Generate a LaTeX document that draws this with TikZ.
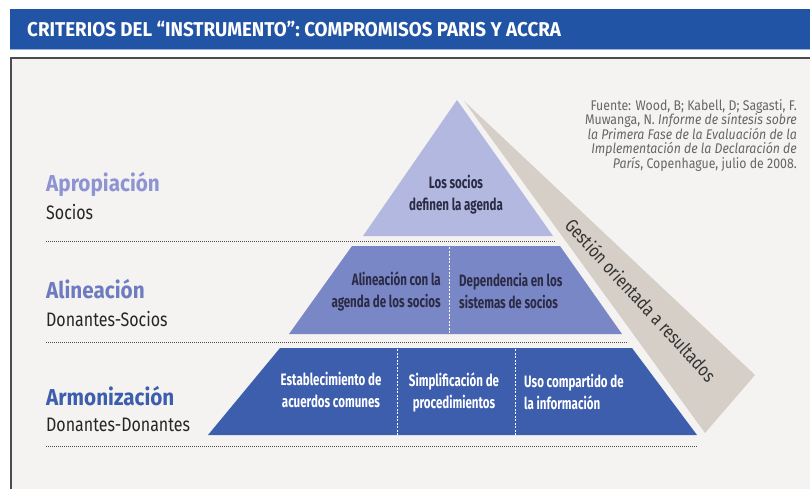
\documentclass[tikz,border=0pt]{standalone}
\usepackage{fontspec}
\setmainfont{Fira Sans}
\newfontfamily\narrowfont[FakeStretch=0.82]{Fira Sans}
\newfontfamily\slimfont[FakeStretch=0.7]{Fira Sans}
\newfontfamily\titlefont[FakeStretch=0.94]{Fira Sans}
\newfontfamily\levelfont[FakeStretch=0.9]{Fira Sans}
\newfontfamily\notefont[FakeStretch=0.88]{Fira Sans}
\usetikzlibrary{positioning}

\definecolor{headblue}{HTML}{2254A5}
\definecolor{panelgray}{HTML}{F4F3F1}
\definecolor{tiertop}{HTML}{B2B8E0}
\definecolor{tiermid}{HTML}{7A87C6}
\definecolor{tierlow}{HTML}{3D5DAD}
\definecolor{stripgray}{HTML}{D5CFC7}
\definecolor{lbltop}{HTML}{8E94D2}
\definecolor{lblmid}{HTML}{6E7BC0}
\definecolor{textdark}{HTML}{2B2B45}

\tikzstyle{headline}=[anchor=west,text=white,inner sep=0pt,
font=\titlefont\bfseries\fontsize{20}{20}\selectfont]
\tikzstyle{level}=[anchor=base west,inner sep=0pt,
font=\levelfont\bfseries\fontsize{23}{23}\selectfont]
\tikzstyle{actor}=[anchor=base west,inner sep=0pt,text=black!85,
font=\narrowfont\fontsize{19.5}{19.5}\selectfont]
\tikzstyle{tiertext}=[inner sep=0pt,align=center,
font=\slimfont\bfseries\fontsize{16.5}{22}\selectfont]
\tikzstyle{sep}=[draw=black!70,dash pattern=on 1.2pt off 0.8pt,line width=0.9pt]
\tikzstyle{divider}=[draw=white,dash pattern=on 2pt off 1.5pt,line width=0.8pt]

\begin{document}
\begin{tikzpicture}[x=1pt,y=-1pt]
\useasboundingbox (0,0) rectangle (810,488);
\fill[white] (0,0) rectangle (810,488);

% header band
\fill[headblue] (10,9) rectangle (810,49);
\draw[headblue!45,line width=1pt] (10,49.5) -- (810,49.5);
\node[headline] (title) at (27,29) {CRITERIOS DEL “INSTRUMENTO”: COMPROMISOS PARIS Y ACCRA};

% panel
\draw[black!70,line width=1.5pt,fill=panelgray] (11,58) rectangle (830,510);

% gestion strip
\fill[stripgray] (464,101) -- (755,375) -- (705,433) -- cycle;
\node[font=\narrowfont\fontsize{18.5}{18.5}\selectfont,text=black!80,rotate=-47.5]
  (gestion) at (641,300) {Gestión orientada a resultados};

% pyramid
\fill[tiertop] (457,100) -- (553,236) -- (363,236) -- cycle;
\fill[tiermid] (352,246) -- (560,246) -- (622,334) -- (289,334) -- cycle;
\fill[tierlow] (280,348) -- (632,348) -- (697,435) -- (208,435) -- cycle;
\draw[divider] (449,247) -- (449,334);
\draw[divider] (397,349) -- (397,435);
\draw[divider] (515,349) -- (515,435);

% separators
\draw[sep] (46,241) -- (555,241);
\draw[sep] (46,342) -- (628,342);
\draw[sep] (46,446) -- (697,446);

% left labels
\node[level,text=lbltop] (apro) at (46,191) {Apropiación};
\node[actor] (socios) at (46,219) {Socios};
\node[level,text=lblmid] (aline) at (46,298) {Alineación};
\node[actor] (donsoc) at (46,326) {Donantes-Socios};
\node[level,text=tierlow] (armon) at (46,405) {Armonización};
\node[actor] (dondon) at (46,431) {Donantes-Donantes};

% tier texts
\node[tiertext,text=textdark] (agenda) at (456,195) {Los socios\\definen la agenda};
\node[tiertext,text=textdark,align=right,anchor=east] (alinea) at (441,291)
  {Alineación con la\\agenda de los socios};
\node[tiertext,text=textdark,align=left,anchor=west] (depend) at (459,291)
  {Dependencia en los\\sistemas de socios};
\node[tiertext,text=white] (acuerd) at (331,390) {Establecimiento de\\acuerdos comunes};
\node[tiertext,text=white] (simpl) at (454,392) {Simplificación de\\procedimientos};
\node[tiertext,text=white,align=left,anchor=west] (infor) at (524,392)
  {Uso compartido de\\la información};

% source
\node[anchor=north east,align=right,inner sep=0pt,text=black!60,
  font=\notefont\fontsize{14}{14.5}\selectfont] (fuente) at (797,99)
  {Fuente: Wood, B; Kabell, D; Sagasti, F.\\
   Muwanga, N. \textit{Informe de síntesis sobre}\\
   \textit{la Primera Fase de la Evaluación de la}\\
   \textit{Implementación de la Declaración de}\\
   \textit{París}, Copenhague, julio de 2008.};
\end{tikzpicture}
\end{document}
